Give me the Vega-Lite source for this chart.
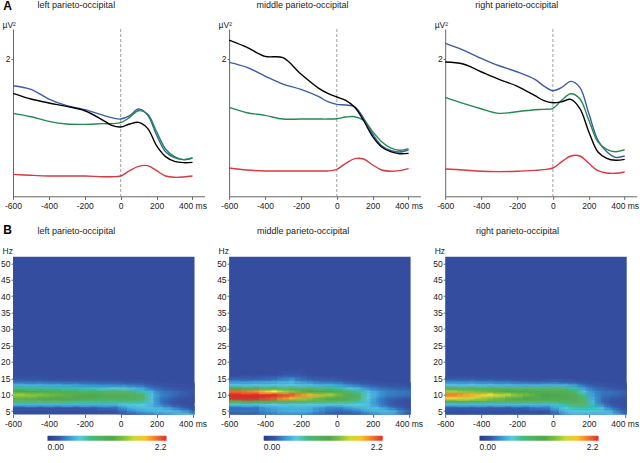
{"$schema":"https://vega.github.io/schema/vega-lite/v6.json","padding":0,"background":"white","config":{"font":"Liberation Sans","view":{"stroke":null},"axis":{"grid":false,"tickCount":12,"labelFont":"Liberation Sans","labelFontSize":8.5,"labelColor":"#222","titleFont":"Liberation Sans","titleFontSize":8.5,"titleColor":"#222","titleFontWeight":"normal","domainColor":"#666","tickColor":"#666","tickSize":3,"labelFlush":false,"labelBound":false},"axisY":{"tickSize":2,"labelPadding":1},"legend":{"labelFont":"Liberation Sans","labelFontSize":8.5,"labelColor":"#222"}},
"datasets":{
"lL":[{"s":"blue","t":-600,"v":1.606},{"s":"blue","t":-500,"v":1.553},{"s":"blue","t":-400,"v":1.413},{"s":"blue","t":-300,"v":1.316},{"s":"blue","t":-200,"v":1.258},{"s":"blue","t":-100,"v":1.18},{"s":"blue","t":-50,"v":1.142},{"s":"blue","t":0,"v":1.122},{"s":"blue","t":50,"v":1.171},{"s":"blue","t":100,"v":1.268},{"s":"blue","t":150,"v":1.18},{"s":"blue","t":200,"v":0.89},{"s":"blue","t":250,"v":0.648},{"s":"blue","t":300,"v":0.561},{"s":"blue","t":350,"v":0.532},{"s":"blue","t":400,"v":0.556},
{"s":"green","t":-600,"v":1.205},{"s":"green","t":-500,"v":1.156},{"s":"green","t":-400,"v":1.089},{"s":"green","t":-300,"v":1.05},{"s":"green","t":-200,"v":1.045},{"s":"green","t":-100,"v":1.055},{"s":"green","t":-50,"v":1.055},{"s":"green","t":0,"v":1.069},{"s":"green","t":50,"v":1.147},{"s":"green","t":100,"v":1.243},{"s":"green","t":150,"v":1.195},{"s":"green","t":200,"v":0.939},{"s":"green","t":250,"v":0.687},{"s":"green","t":300,"v":0.576},{"s":"green","t":350,"v":0.532},{"s":"green","t":400,"v":0.556},
{"s":"black","t":-600,"v":1.495},{"s":"black","t":-500,"v":1.413},{"s":"black","t":-400,"v":1.355},{"s":"black","t":-300,"v":1.306},{"s":"black","t":-200,"v":1.243},{"s":"black","t":-100,"v":1.108},{"s":"black","t":-50,"v":1.031},{"s":"black","t":0,"v":1.006},{"s":"black","t":50,"v":1.05},{"s":"black","t":100,"v":1.074},{"s":"black","t":150,"v":0.987},{"s":"black","t":200,"v":0.735},{"s":"black","t":250,"v":0.576},{"s":"black","t":300,"v":0.508},{"s":"black","t":350,"v":0.489},{"s":"black","t":400,"v":0.493},
{"s":"red","t":-600,"v":0.319},{"s":"red","t":-500,"v":0.305},{"s":"red","t":-400,"v":0.295},{"s":"red","t":-300,"v":0.295},{"s":"red","t":-200,"v":0.295},{"s":"red","t":-100,"v":0.285},{"s":"red","t":-50,"v":0.285},{"s":"red","t":0,"v":0.295},{"s":"red","t":50,"v":0.373},{"s":"red","t":100,"v":0.435},{"s":"red","t":150,"v":0.445},{"s":"red","t":200,"v":0.373},{"s":"red","t":250,"v":0.295},{"s":"red","t":300,"v":0.276},{"s":"red","t":350,"v":0.281},{"s":"red","t":400,"v":0.295}],
"lM":[{"s":"blue","t":-600,"v":1.945},{"s":"blue","t":-500,"v":1.872},{"s":"blue","t":-400,"v":1.747},{"s":"blue","t":-300,"v":1.63},{"s":"blue","t":-200,"v":1.553},{"s":"blue","t":-100,"v":1.447},{"s":"blue","t":-50,"v":1.374},{"s":"blue","t":0,"v":1.335},{"s":"blue","t":50,"v":1.326},{"s":"blue","t":100,"v":1.301},{"s":"blue","t":150,"v":1.132},{"s":"blue","t":200,"v":0.905},{"s":"blue","t":250,"v":0.735},{"s":"blue","t":300,"v":0.668},{"s":"blue","t":350,"v":0.643},{"s":"blue","t":400,"v":0.672},
{"s":"green","t":-600,"v":1.292},{"s":"green","t":-500,"v":1.214},{"s":"green","t":-400,"v":1.176},{"s":"green","t":-300,"v":1.122},{"s":"green","t":-200,"v":1.122},{"s":"green","t":-100,"v":1.122},{"s":"green","t":-50,"v":1.122},{"s":"green","t":0,"v":1.127},{"s":"green","t":50,"v":1.151},{"s":"green","t":100,"v":1.156},{"s":"green","t":150,"v":1.103},{"s":"green","t":200,"v":0.939},{"s":"green","t":250,"v":0.793},{"s":"green","t":300,"v":0.702},{"s":"green","t":350,"v":0.668},{"s":"green","t":400,"v":0.692},
{"s":"black","t":-600,"v":2.269},{"s":"black","t":-500,"v":2.163},{"s":"black","t":-400,"v":2.032},{"s":"black","t":-300,"v":2.013},{"s":"black","t":-200,"v":1.776},{"s":"black","t":-100,"v":1.568},{"s":"black","t":-50,"v":1.495},{"s":"black","t":0,"v":1.442},{"s":"black","t":50,"v":1.393},{"s":"black","t":100,"v":1.292},{"s":"black","t":150,"v":1.098},{"s":"black","t":200,"v":0.866},{"s":"black","t":250,"v":0.716},{"s":"black","t":300,"v":0.648},{"s":"black","t":350,"v":0.619},{"s":"black","t":400,"v":0.624},
{"s":"red","t":-600,"v":0.411},{"s":"red","t":-500,"v":0.382},{"s":"red","t":-400,"v":0.368},{"s":"red","t":-300,"v":0.368},{"s":"red","t":-200,"v":0.368},{"s":"red","t":-100,"v":0.368},{"s":"red","t":-50,"v":0.368},{"s":"red","t":0,"v":0.392},{"s":"red","t":50,"v":0.479},{"s":"red","t":100,"v":0.547},{"s":"red","t":150,"v":0.542},{"s":"red","t":200,"v":0.455},{"s":"red","t":250,"v":0.382},{"s":"red","t":300,"v":0.363},{"s":"red","t":350,"v":0.373},{"s":"red","t":400,"v":0.402}],
"lR":[{"s":"blue","t":-600,"v":2.221},{"s":"blue","t":-500,"v":2.124},{"s":"blue","t":-400,"v":2.003},{"s":"blue","t":-300,"v":1.896},{"s":"blue","t":-200,"v":1.809},{"s":"blue","t":-100,"v":1.698},{"s":"blue","t":-50,"v":1.601},{"s":"blue","t":0,"v":1.534},{"s":"blue","t":50,"v":1.582},{"s":"blue","t":100,"v":1.669},{"s":"blue","t":150,"v":1.582},{"s":"blue","t":200,"v":1.205},{"s":"blue","t":250,"v":0.818},{"s":"blue","t":300,"v":0.648},{"s":"blue","t":350,"v":0.566},{"s":"blue","t":400,"v":0.585},
{"s":"green","t":-600,"v":1.437},{"s":"green","t":-500,"v":1.35},{"s":"green","t":-400,"v":1.272},{"s":"green","t":-300,"v":1.205},{"s":"green","t":-200,"v":1.229},{"s":"green","t":-100,"v":1.258},{"s":"green","t":-50,"v":1.263},{"s":"green","t":0,"v":1.277},{"s":"green","t":50,"v":1.398},{"s":"green","t":100,"v":1.49},{"s":"green","t":150,"v":1.418},{"s":"green","t":200,"v":1.108},{"s":"green","t":250,"v":0.793},{"s":"green","t":300,"v":0.682},{"s":"green","t":350,"v":0.648},{"s":"green","t":400,"v":0.677},
{"s":"black","t":-600,"v":1.95},{"s":"black","t":-500,"v":1.921},{"s":"black","t":-400,"v":1.809},{"s":"black","t":-300,"v":1.698},{"s":"black","t":-200,"v":1.601},{"s":"black","t":-100,"v":1.461},{"s":"black","t":-50,"v":1.389},{"s":"black","t":0,"v":1.359},{"s":"black","t":50,"v":1.374},{"s":"black","t":100,"v":1.408},{"s":"black","t":150,"v":1.277},{"s":"black","t":200,"v":0.939},{"s":"black","t":250,"v":0.648},{"s":"black","t":300,"v":0.552},{"s":"black","t":350,"v":0.523},{"s":"black","t":400,"v":0.537},
{"s":"red","t":-600,"v":0.397},{"s":"red","t":-500,"v":0.382},{"s":"red","t":-400,"v":0.363},{"s":"red","t":-300,"v":0.358},{"s":"red","t":-200,"v":0.363},{"s":"red","t":-100,"v":0.377},{"s":"red","t":-50,"v":0.387},{"s":"red","t":0,"v":0.411},{"s":"red","t":50,"v":0.503},{"s":"red","t":100,"v":0.585},{"s":"red","t":150,"v":0.585},{"s":"red","t":200,"v":0.479},{"s":"red","t":250,"v":0.373},{"s":"red","t":300,"v":0.339},{"s":"red","t":350,"v":0.334},{"s":"red","t":400,"v":0.353}],
"hL":[
{"t":25,"f":4,"v":0.17},{"t":75,"f":4,"v":0.2},{"t":125,"f":4,"v":0.25},{"t":175,"f":4,"v":0.3},{"t":225,"f":4,"v":0.35},{"t":275,"f":4,"v":0.4},{"t":325,"f":4,"v":0.5},{"t":375,"f":4,"v":0.55},{"t":425,"f":4,"v":0.4},
{"t":-550,"f":5,"v":0.17},{"t":-450,"f":5,"v":0.17},{"t":-350,"f":5,"v":0.17},{"t":-250,"f":5,"v":0.17},{"t":-150,"f":5,"v":0.17},{"t":-50,"f":5,"v":0.2},{"t":25,"f":5,"v":0.3},{"t":75,"f":5,"v":0.38},{"t":125,"f":5,"v":0.45},{"t":175,"f":5,"v":0.5},{"t":225,"f":5,"v":0.55},{"t":275,"f":5,"v":0.55},{"t":325,"f":5,"v":0.5},{"t":375,"f":5,"v":0.4},{"t":425,"f":5,"v":0.22},
{"t":-550,"f":6,"v":0.2},{"t":-450,"f":6,"v":0.2},{"t":-350,"f":6,"v":0.2},{"t":-250,"f":6,"v":0.2},{"t":-150,"f":6,"v":0.22},{"t":-50,"f":6,"v":0.28},{"t":25,"f":6,"v":0.42},{"t":75,"f":6,"v":0.52},{"t":125,"f":6,"v":0.55},{"t":175,"f":6,"v":0.55},{"t":225,"f":6,"v":0.52},{"t":275,"f":6,"v":0.42},{"t":325,"f":6,"v":0.3},{"t":375,"f":6,"v":0.22},{"t":425,"f":6,"v":0.17},
{"t":-550,"f":7,"v":0.5},{"t":-450,"f":7,"v":0.5},{"t":-350,"f":7,"v":0.5},{"t":-250,"f":7,"v":0.5},{"t":-150,"f":7,"v":0.5},{"t":-50,"f":7,"v":0.5},{"t":25,"f":7,"v":0.6},{"t":75,"f":7,"v":0.62},{"t":125,"f":7,"v":0.6},{"t":175,"f":7,"v":0.5},{"t":225,"f":7,"v":0.35},{"t":275,"f":7,"v":0.25},{"t":325,"f":7,"v":0.2},{"t":375,"f":7,"v":0.17},
{"t":-550,"f":8,"v":0.85},{"t":-450,"f":8,"v":0.85},{"t":-350,"f":8,"v":0.85},{"t":-250,"f":8,"v":0.82},{"t":-150,"f":8,"v":0.8},{"t":-50,"f":8,"v":0.8},{"t":25,"f":8,"v":0.8},{"t":75,"f":8,"v":0.8},{"t":125,"f":8,"v":0.75},{"t":175,"f":8,"v":0.55},{"t":225,"f":8,"v":0.3},{"t":275,"f":8,"v":0.22},{"t":325,"f":8,"v":0.18},{"t":375,"f":8,"v":0.17},{"t":425,"f":8,"v":0.16},
{"t":-550,"f":9,"v":1.3},{"t":-450,"f":9,"v":1.25},{"t":-350,"f":9,"v":1.18},{"t":-250,"f":9,"v":1.12},{"t":-150,"f":9,"v":1.08},{"t":-50,"f":9,"v":1.02},{"t":25,"f":9,"v":0.98},{"t":75,"f":9,"v":0.95},{"t":125,"f":9,"v":0.88},{"t":175,"f":9,"v":0.55},{"t":225,"f":9,"v":0.32},{"t":275,"f":9,"v":0.26},{"t":325,"f":9,"v":0.2},{"t":375,"f":9,"v":0.18},{"t":425,"f":9,"v":0.17},
{"t":-550,"f":10,"v":1.5},{"t":-450,"f":10,"v":1.42},{"t":-350,"f":10,"v":1.32},{"t":-250,"f":10,"v":1.25},{"t":-150,"f":10,"v":1.15},{"t":-50,"f":10,"v":1.05},{"t":25,"f":10,"v":1.0},{"t":75,"f":10,"v":0.95},{"t":125,"f":10,"v":0.88},{"t":175,"f":10,"v":0.55},{"t":225,"f":10,"v":0.36},{"t":275,"f":10,"v":0.3},{"t":325,"f":10,"v":0.25},{"t":375,"f":10,"v":0.22},{"t":425,"f":10,"v":0.2},
{"t":-550,"f":11,"v":1.2},{"t":-450,"f":11,"v":1.12},{"t":-350,"f":11,"v":1.05},{"t":-250,"f":11,"v":1.0},{"t":-150,"f":11,"v":0.95},{"t":-50,"f":11,"v":0.92},{"t":25,"f":11,"v":0.88},{"t":75,"f":11,"v":0.82},{"t":125,"f":11,"v":0.7},{"t":175,"f":11,"v":0.48},{"t":225,"f":11,"v":0.32},{"t":275,"f":11,"v":0.28},{"t":325,"f":11,"v":0.25},{"t":375,"f":11,"v":0.22},{"t":425,"f":11,"v":0.2},
{"t":-550,"f":12,"v":0.8},{"t":-450,"f":12,"v":0.78},{"t":-350,"f":12,"v":0.75},{"t":-250,"f":12,"v":0.72},{"t":-150,"f":12,"v":0.68},{"t":-50,"f":12,"v":0.62},{"t":25,"f":12,"v":0.58},{"t":75,"f":12,"v":0.52},{"t":125,"f":12,"v":0.45},{"t":175,"f":12,"v":0.3},{"t":225,"f":12,"v":0.25},{"t":275,"f":12,"v":0.22},{"t":325,"f":12,"v":0.2},{"t":375,"f":12,"v":0.2},{"t":425,"f":12,"v":0.18},
{"t":-550,"f":13,"v":0.5},{"t":-450,"f":13,"v":0.48},{"t":-350,"f":13,"v":0.45},{"t":-250,"f":13,"v":0.42},{"t":-150,"f":13,"v":0.38},{"t":-50,"f":13,"v":0.35},{"t":25,"f":13,"v":0.32},{"t":75,"f":13,"v":0.3},{"t":125,"f":13,"v":0.27},{"t":175,"f":13,"v":0.22},{"t":225,"f":13,"v":0.2},{"t":275,"f":13,"v":0.18},{"t":325,"f":13,"v":0.17},{"t":375,"f":13,"v":0.17},{"t":425,"f":13,"v":0.16},
{"t":-550,"f":14,"v":0.28},{"t":-450,"f":14,"v":0.27},{"t":-350,"f":14,"v":0.25},{"t":-250,"f":14,"v":0.24},{"t":-150,"f":14,"v":0.23},{"t":-50,"f":14,"v":0.22},{"t":25,"f":14,"v":0.2},{"t":75,"f":14,"v":0.2},{"t":125,"f":14,"v":0.18},{"t":175,"f":14,"v":0.17},
{"t":-550,"f":15,"v":0.18},{"t":-450,"f":15,"v":0.18},{"t":-350,"f":15,"v":0.17},{"t":-250,"f":15,"v":0.17},{"t":-150,"f":15,"v":0.17},{"t":-50,"f":15,"v":0.16}],
"hM":[
{"t":-550,"f":4,"v":0.2},{"t":-450,"f":4,"v":0.2},{"t":-350,"f":4,"v":0.3},{"t":-250,"f":4,"v":0.35},{"t":-150,"f":4,"v":0.3},{"t":-50,"f":4,"v":0.2},{"t":25,"f":4,"v":0.17},{"t":75,"f":4,"v":0.17},{"t":125,"f":4,"v":0.2},{"t":175,"f":4,"v":0.28},{"t":225,"f":4,"v":0.35},{"t":275,"f":4,"v":0.42},{"t":325,"f":4,"v":0.4},{"t":375,"f":4,"v":0.25},{"t":425,"f":4,"v":0.2},
{"t":-550,"f":5,"v":0.3},{"t":-450,"f":5,"v":0.3},{"t":-350,"f":5,"v":0.42},{"t":-250,"f":5,"v":0.5},{"t":-150,"f":5,"v":0.48},{"t":-50,"f":5,"v":0.3},{"t":25,"f":5,"v":0.25},{"t":75,"f":5,"v":0.3},{"t":125,"f":5,"v":0.35},{"t":175,"f":5,"v":0.45},{"t":225,"f":5,"v":0.52},{"t":275,"f":5,"v":0.55},{"t":325,"f":5,"v":0.48},{"t":375,"f":5,"v":0.32},{"t":425,"f":5,"v":0.22},
{"t":-550,"f":6,"v":0.28},{"t":-450,"f":6,"v":0.3},{"t":-350,"f":6,"v":0.45},{"t":-250,"f":6,"v":0.5},{"t":-150,"f":6,"v":0.48},{"t":-50,"f":6,"v":0.35},{"t":25,"f":6,"v":0.35},{"t":75,"f":6,"v":0.42},{"t":125,"f":6,"v":0.5},{"t":175,"f":6,"v":0.55},{"t":225,"f":6,"v":0.55},{"t":275,"f":6,"v":0.42},{"t":325,"f":6,"v":0.3},{"t":375,"f":6,"v":0.22},{"t":425,"f":6,"v":0.18},
{"t":-550,"f":7,"v":0.55},{"t":-450,"f":7,"v":0.55},{"t":-350,"f":7,"v":0.6},{"t":-250,"f":7,"v":0.62},{"t":-150,"f":7,"v":0.6},{"t":-50,"f":7,"v":0.58},{"t":25,"f":7,"v":0.58},{"t":75,"f":7,"v":0.6},{"t":125,"f":7,"v":0.6},{"t":175,"f":7,"v":0.55},{"t":225,"f":7,"v":0.4},{"t":275,"f":7,"v":0.27},{"t":325,"f":7,"v":0.2},{"t":375,"f":7,"v":0.18},{"t":425,"f":7,"v":0.17},
{"t":-550,"f":8,"v":1.25},{"t":-450,"f":8,"v":1.2},{"t":-350,"f":8,"v":1.1},{"t":-250,"f":8,"v":1.0},{"t":-150,"f":8,"v":0.9},{"t":-50,"f":8,"v":0.88},{"t":25,"f":8,"v":0.85},{"t":75,"f":8,"v":0.82},{"t":125,"f":8,"v":0.72},{"t":175,"f":8,"v":0.55},{"t":225,"f":8,"v":0.38},{"t":275,"f":8,"v":0.26},{"t":325,"f":8,"v":0.2},{"t":375,"f":8,"v":0.18},{"t":425,"f":8,"v":0.17},
{"t":-550,"f":9,"v":2.2},{"t":-450,"f":9,"v":2.2},{"t":-350,"f":9,"v":2.1},{"t":-250,"f":9,"v":1.85},{"t":-150,"f":9,"v":1.45},{"t":-50,"f":9,"v":1.25},{"t":25,"f":9,"v":1.15},{"t":75,"f":9,"v":1.0},{"t":125,"f":9,"v":0.88},{"t":175,"f":9,"v":0.6},{"t":225,"f":9,"v":0.4},{"t":275,"f":9,"v":0.28},{"t":325,"f":9,"v":0.25},{"t":375,"f":9,"v":0.22},{"t":425,"f":9,"v":0.2},
{"t":-550,"f":10,"v":2.2},{"t":-450,"f":10,"v":2.2},{"t":-350,"f":10,"v":2.2},{"t":-250,"f":10,"v":2.1},{"t":-150,"f":10,"v":1.85},{"t":-50,"f":10,"v":1.5},{"t":25,"f":10,"v":1.3},{"t":75,"f":10,"v":1.08},{"t":125,"f":10,"v":0.9},{"t":175,"f":10,"v":0.62},{"t":225,"f":10,"v":0.45},{"t":275,"f":10,"v":0.35},{"t":325,"f":10,"v":0.32},{"t":375,"f":10,"v":0.3},{"t":425,"f":10,"v":0.28},
{"t":-550,"f":11,"v":2.05},{"t":-450,"f":11,"v":1.95},{"t":-350,"f":11,"v":1.7},{"t":-250,"f":11,"v":1.4},{"t":-150,"f":11,"v":1.2},{"t":-50,"f":11,"v":1.1},{"t":25,"f":11,"v":1.0},{"t":75,"f":11,"v":0.9},{"t":125,"f":11,"v":0.75},{"t":175,"f":11,"v":0.55},{"t":225,"f":11,"v":0.42},{"t":275,"f":11,"v":0.35},{"t":325,"f":11,"v":0.32},{"t":375,"f":11,"v":0.3},{"t":425,"f":11,"v":0.28},
{"t":-550,"f":12,"v":1.1},{"t":-450,"f":12,"v":1.05},{"t":-350,"f":12,"v":1.0},{"t":-250,"f":12,"v":0.9},{"t":-150,"f":12,"v":0.85},{"t":-50,"f":12,"v":0.8},{"t":25,"f":12,"v":0.72},{"t":75,"f":12,"v":0.62},{"t":125,"f":12,"v":0.5},{"t":175,"f":12,"v":0.38},{"t":225,"f":12,"v":0.32},{"t":275,"f":12,"v":0.28},{"t":325,"f":12,"v":0.25},{"t":375,"f":12,"v":0.25},{"t":425,"f":12,"v":0.22},
{"t":-550,"f":13,"v":0.58},{"t":-450,"f":13,"v":0.58},{"t":-350,"f":13,"v":0.58},{"t":-250,"f":13,"v":0.6},{"t":-150,"f":13,"v":0.55},{"t":-50,"f":13,"v":0.48},{"t":25,"f":13,"v":0.42},{"t":75,"f":13,"v":0.35},{"t":125,"f":13,"v":0.3},{"t":175,"f":13,"v":0.25},{"t":225,"f":13,"v":0.22},{"t":275,"f":13,"v":0.2},{"t":325,"f":13,"v":0.2},{"t":375,"f":13,"v":0.18},{"t":425,"f":13,"v":0.17},
{"t":-550,"f":14,"v":0.38},{"t":-450,"f":14,"v":0.4},{"t":-350,"f":14,"v":0.42},{"t":-250,"f":14,"v":0.48},{"t":-150,"f":14,"v":0.35},{"t":-50,"f":14,"v":0.28},{"t":25,"f":14,"v":0.25},{"t":75,"f":14,"v":0.22},{"t":125,"f":14,"v":0.2},{"t":175,"f":14,"v":0.18},{"t":225,"f":14,"v":0.17},
{"t":-550,"f":15,"v":0.22},{"t":-450,"f":15,"v":0.22},{"t":-350,"f":15,"v":0.25},{"t":-250,"f":15,"v":0.35},{"t":-150,"f":15,"v":0.22},{"t":-50,"f":15,"v":0.2},{"t":25,"f":15,"v":0.18},{"t":75,"f":15,"v":0.17},
{"t":-250,"f":16,"v":0.22},{"t":-250,"f":17,"v":0.18}],
"hR":[
{"t":-550,"f":4,"v":0.16},{"t":-450,"f":4,"v":0.16},{"t":-350,"f":4,"v":0.16},{"t":-250,"f":4,"v":0.16},{"t":-150,"f":4,"v":0.16},{"t":-50,"f":4,"v":0.16},{"t":25,"f":4,"v":0.25},{"t":75,"f":4,"v":0.42},{"t":125,"f":4,"v":0.5},{"t":175,"f":4,"v":0.45},{"t":225,"f":4,"v":0.45},{"t":275,"f":4,"v":0.45},{"t":325,"f":4,"v":0.55},{"t":375,"f":4,"v":0.4},{"t":425,"f":4,"v":0.2},
{"t":-550,"f":5,"v":0.18},{"t":-450,"f":5,"v":0.18},{"t":-350,"f":5,"v":0.18},{"t":-250,"f":5,"v":0.18},{"t":-150,"f":5,"v":0.18},{"t":-50,"f":5,"v":0.2},{"t":25,"f":5,"v":0.38},{"t":75,"f":5,"v":0.55},{"t":125,"f":5,"v":0.6},{"t":175,"f":5,"v":0.58},{"t":225,"f":5,"v":0.58},{"t":275,"f":5,"v":0.62},{"t":325,"f":5,"v":0.5},{"t":375,"f":5,"v":0.3},{"t":425,"f":5,"v":0.2},
{"t":-550,"f":6,"v":0.22},{"t":-450,"f":6,"v":0.22},{"t":-350,"f":6,"v":0.22},{"t":-250,"f":6,"v":0.22},{"t":-150,"f":6,"v":0.25},{"t":-50,"f":6,"v":0.32},{"t":25,"f":6,"v":0.5},{"t":75,"f":6,"v":0.6},{"t":125,"f":6,"v":0.7},{"t":175,"f":6,"v":0.7},{"t":225,"f":6,"v":0.72},{"t":275,"f":6,"v":0.55},{"t":325,"f":6,"v":0.32},{"t":375,"f":6,"v":0.22},{"t":425,"f":6,"v":0.18},
{"t":-550,"f":7,"v":0.52},{"t":-450,"f":7,"v":0.52},{"t":-350,"f":7,"v":0.52},{"t":-250,"f":7,"v":0.52},{"t":-150,"f":7,"v":0.52},{"t":-50,"f":7,"v":0.52},{"t":25,"f":7,"v":0.65},{"t":75,"f":7,"v":0.75},{"t":125,"f":7,"v":0.85},{"t":175,"f":7,"v":0.85},{"t":225,"f":7,"v":0.7},{"t":275,"f":7,"v":0.35},{"t":325,"f":7,"v":0.22},{"t":375,"f":7,"v":0.18},{"t":425,"f":7,"v":0.17},
{"t":-550,"f":8,"v":1.0},{"t":-450,"f":8,"v":0.98},{"t":-350,"f":8,"v":0.95},{"t":-250,"f":8,"v":0.95},{"t":-150,"f":8,"v":0.92},{"t":-50,"f":8,"v":0.9},{"t":25,"f":8,"v":0.95},{"t":75,"f":8,"v":0.98},{"t":125,"f":8,"v":1.0},{"t":175,"f":8,"v":0.9},{"t":225,"f":8,"v":0.5},{"t":275,"f":8,"v":0.26},{"t":325,"f":8,"v":0.2},{"t":375,"f":8,"v":0.18},{"t":425,"f":8,"v":0.17},
{"t":-550,"f":9,"v":1.75},{"t":-450,"f":9,"v":1.6},{"t":-350,"f":9,"v":1.45},{"t":-250,"f":9,"v":1.28},{"t":-150,"f":9,"v":1.18},{"t":-50,"f":9,"v":1.12},{"t":25,"f":9,"v":1.12},{"t":75,"f":9,"v":1.1},{"t":125,"f":9,"v":1.05},{"t":175,"f":9,"v":0.88},{"t":225,"f":9,"v":0.45},{"t":275,"f":9,"v":0.28},{"t":325,"f":9,"v":0.22},{"t":375,"f":9,"v":0.2},{"t":425,"f":9,"v":0.18},
{"t":-550,"f":10,"v":2.0},{"t":-450,"f":10,"v":1.85},{"t":-350,"f":10,"v":1.72},{"t":-250,"f":10,"v":1.55},{"t":-150,"f":10,"v":1.35},{"t":-50,"f":10,"v":1.2},{"t":25,"f":10,"v":1.15},{"t":75,"f":10,"v":1.1},{"t":125,"f":10,"v":1.05},{"t":175,"f":10,"v":0.75},{"t":225,"f":10,"v":0.42},{"t":275,"f":10,"v":0.3},{"t":325,"f":10,"v":0.28},{"t":375,"f":10,"v":0.25},{"t":425,"f":10,"v":0.22},
{"t":-550,"f":11,"v":1.5},{"t":-450,"f":11,"v":1.4},{"t":-350,"f":11,"v":1.3},{"t":-250,"f":11,"v":1.2},{"t":-150,"f":11,"v":1.12},{"t":-50,"f":11,"v":1.08},{"t":25,"f":11,"v":1.05},{"t":75,"f":11,"v":1.0},{"t":125,"f":11,"v":0.95},{"t":175,"f":11,"v":0.55},{"t":225,"f":11,"v":0.38},{"t":275,"f":11,"v":0.3},{"t":325,"f":11,"v":0.28},{"t":375,"f":11,"v":0.25},{"t":425,"f":11,"v":0.22},
{"t":-550,"f":12,"v":0.95},{"t":-450,"f":12,"v":0.95},{"t":-350,"f":12,"v":0.92},{"t":-250,"f":12,"v":0.9},{"t":-150,"f":12,"v":0.85},{"t":-50,"f":12,"v":0.85},{"t":25,"f":12,"v":0.85},{"t":75,"f":12,"v":0.82},{"t":125,"f":12,"v":0.72},{"t":175,"f":12,"v":0.42},{"t":225,"f":12,"v":0.3},{"t":275,"f":12,"v":0.25},{"t":325,"f":12,"v":0.22},{"t":375,"f":12,"v":0.2},{"t":425,"f":12,"v":0.18},
{"t":-550,"f":13,"v":0.58},{"t":-450,"f":13,"v":0.58},{"t":-350,"f":13,"v":0.55},{"t":-250,"f":13,"v":0.52},{"t":-150,"f":13,"v":0.48},{"t":-50,"f":13,"v":0.48},{"t":25,"f":13,"v":0.5},{"t":75,"f":13,"v":0.48},{"t":125,"f":13,"v":0.42},{"t":175,"f":13,"v":0.28},{"t":225,"f":13,"v":0.22},{"t":275,"f":13,"v":0.2},{"t":325,"f":13,"v":0.18},{"t":375,"f":13,"v":0.17},{"t":425,"f":13,"v":0.16},
{"t":-550,"f":14,"v":0.35},{"t":-450,"f":14,"v":0.35},{"t":-350,"f":14,"v":0.32},{"t":-250,"f":14,"v":0.3},{"t":-150,"f":14,"v":0.25},{"t":-50,"f":14,"v":0.24},{"t":25,"f":14,"v":0.24},{"t":75,"f":14,"v":0.22},{"t":125,"f":14,"v":0.2},{"t":175,"f":14,"v":0.18},{"t":225,"f":14,"v":0.17},
{"t":-550,"f":15,"v":0.2},{"t":-450,"f":15,"v":0.2},{"t":-350,"f":15,"v":0.18},{"t":-250,"f":15,"v":0.18},{"t":-150,"f":15,"v":0.17},{"t":-50,"f":15,"v":0.17}],
"bg":[{"a":-600,"b":411,"c":4,"d":52,"v":0.15}],
"zero":[{"t":0}],
"mA":[{"t":-630,"v":2.76,"label":"A"}],
"mB":[{"t":-630,"f":60.2,"label":"B"}],
"tL":[{"t":-463,"v":2.777,"label":"left parieto-occipital"}],
"tM":[{"t":-447,"v":2.777,"label":"middle parieto-occipital"}],
"tR":[{"t":-433,"v":2.777,"label":"right parieto-occipital"}],
"uL":[{"t":-463,"f":59.9,"label":"left parieto-occipital"}],
"uM":[{"t":-444,"f":59.9,"label":"middle parieto-occipital"}],
"uR":[{"t":-429,"f":59.9,"label":"right parieto-occipital"}]
},
"columns":3,"bounds":"flush","spacing":{"row":59.7,"column":24.1},"resolve":{"scale":{"color":"independent"}},
"concat":[
{"width":191.5,"height":167.3,"layer":[
{"data":{"name":"zero"},"mark":{"type":"rule","color":"#777","strokeWidth":0.7,"strokeDash":[3,2]},"encoding":{"x":{"field":"t","type":"quantitative","scale":{"domain":[-600,467],"nice":false},"axis":{"values":[-600,-400,-200,0,200,400],"title":null,"labelOverlap":false,"labelExpr":"datum.value==400?'400 ms':''+datum.value"}}}},
{"data":{"name":"lL"},"mark":{"type":"line","interpolate":"catmull-rom","strokeWidth":1.4},"encoding":{"x":{"field":"t","type":"quantitative"},"y":{"field":"v","type":"quantitative","scale":{"domain":[0,2.43],"nice":false},"axis":{"values":[2],"format":"d","title":"µV²","titleAngle":0,"titleAlign":"left","titleX":-11,"titleY":0}},"color":{"field":"s","type":"nominal","legend":null,"scale":{"domain":["blue","green","black","red"],"range":["#3c5aa6","#22894f","#000000","#d8383f"]}}}},
{"data":{"name":"tL"},"mark":{"type":"text","align":"left","fontSize":9,"color":"#222","font":"Liberation Sans"},"encoding":{"x":{"field":"t","type":"quantitative"},"y":{"field":"v","type":"quantitative"},"text":{"field":"label"}}},
{"data":{"name":"mA"},"mark":{"type":"text","fontSize":12,"fontWeight":"bold","color":"#000","font":"Liberation Sans"},"encoding":{"x":{"field":"t","type":"quantitative"},"y":{"field":"v","type":"quantitative"},"text":{"field":"label"}}}]},
{"width":191.5,"height":167.3,"layer":[
{"data":{"name":"zero"},"mark":{"type":"rule","color":"#777","strokeWidth":0.7,"strokeDash":[3,2]},"encoding":{"x":{"field":"t","type":"quantitative","scale":{"domain":[-600,467],"nice":false},"axis":{"values":[-600,-400,-200,0,200,400],"title":null,"labelOverlap":false,"labelExpr":"datum.value==400?'400 ms':''+datum.value"}}}},
{"data":{"name":"lM"},"mark":{"type":"line","interpolate":"catmull-rom","strokeWidth":1.4},"encoding":{"x":{"field":"t","type":"quantitative"},"y":{"field":"v","type":"quantitative","scale":{"domain":[0,2.43],"nice":false},"axis":{"values":[2],"format":"d","title":"µV²","titleAngle":0,"titleAlign":"left","titleX":-11,"titleY":0}},"color":{"field":"s","type":"nominal","legend":null,"scale":{"domain":["blue","green","black","red"],"range":["#3c5aa6","#22894f","#000000","#d8383f"]}}}},
{"data":{"name":"tM"},"mark":{"type":"text","align":"left","fontSize":9,"color":"#222","font":"Liberation Sans"},"encoding":{"x":{"field":"t","type":"quantitative"},"y":{"field":"v","type":"quantitative"},"text":{"field":"label"}}}]},
{"width":191.5,"height":167.3,"layer":[
{"data":{"name":"zero"},"mark":{"type":"rule","color":"#777","strokeWidth":0.7,"strokeDash":[3,2]},"encoding":{"x":{"field":"t","type":"quantitative","scale":{"domain":[-600,467],"nice":false},"axis":{"values":[-600,-400,-200,0,200,400],"title":null,"labelOverlap":false,"labelExpr":"datum.value==400?'400 ms':''+datum.value"}}}},
{"data":{"name":"lR"},"mark":{"type":"line","interpolate":"catmull-rom","strokeWidth":1.4},"encoding":{"x":{"field":"t","type":"quantitative"},"y":{"field":"v","type":"quantitative","scale":{"domain":[0,2.43],"nice":false},"axis":{"values":[2],"format":"d","title":"µV²","titleAngle":0,"titleAlign":"left","titleX":-11,"titleY":0}},"color":{"field":"s","type":"nominal","legend":null,"scale":{"domain":["blue","green","black","red"],"range":["#3c5aa6","#22894f","#000000","#d8383f"]}}}},
{"data":{"name":"tR"},"mark":{"type":"text","align":"left","fontSize":9,"color":"#222","font":"Liberation Sans"},"encoding":{"x":{"field":"t","type":"quantitative"},"y":{"field":"v","type":"quantitative"},"text":{"field":"label"}}}]},
{"width":181.5,"height":157.7,"layer":[
{"data":{"name":"bg"},"mark":{"type":"rect"},"encoding":{"x":{"field":"a","type":"quantitative","scale":{"domain":[-600,411],"nice":false},"axis":{"values":[-600,-400,-200,0,200,400],"title":null,"domain":false,"labelOverlap":false,"labelExpr":"datum.value==400?'400 ms':''+datum.value"}},"x2":{"field":"b"},"y":{"field":"c","type":"quantitative","scale":{"domain":[4,52],"nice":false},"axis":{"values":[5,10,15,20,25,30,35,40,45,50],"title":"Hz","domain":false,"labelOverlap":false,"titleAngle":0,"titleAlign":"left","titleX":-11,"titleY":-1}},"y2":{"field":"d"},"color":{"field":"v","type":"quantitative","scale":{"domain":[0,0.2,0.45,0.6,0.85,1.2,1.45,1.7,1.95,2.2],"range":["#2a3c8c","#3953a4","#45a8dc","#5cc8e0","#5ab56a","#4ea84a","#8cc63f","#f5e83a","#f58a30","#e02a2a"]},"legend":{"orient":"none","direction":"horizontal","title":null,"legendX":34.5,"legendY":179,"gradientLength":119,"gradientThickness":5,"gradientOpacity":1,"values":[0,2.2],"labelExpr":"datum.value==0?'0.00':'2.2'","labelAlign":"center","encode":{"gradient":{"update":{"opacity":{"value":1}}}}}}}},
{"data":{"name":"hL"},"transform":[{"filter":"datum.t<0"}],"mark":{"type":"rect","width":18.2,"height":3.4,"clip":true},"encoding":{"x":{"field":"t","type":"quantitative"},"y":{"field":"f","type":"quantitative"},"color":{"field":"v","type":"quantitative"}}},
{"data":{"name":"hL"},"transform":[{"filter":"datum.t>0"}],"mark":{"type":"rect","width":9.1,"height":3.4,"clip":true},"encoding":{"x":{"field":"t","type":"quantitative"},"y":{"field":"f","type":"quantitative"},"color":{"field":"v","type":"quantitative"}}},
{"data":{"name":"hL"},"transform":[{"filter":"datum.t<0"}],"mark":{"type":"rect","width":30,"height":5.5,"opacity":0.38,"clip":true},"encoding":{"x":{"field":"t","type":"quantitative"},"y":{"field":"f","type":"quantitative"},"color":{"field":"v","type":"quantitative"}}},
{"data":{"name":"hL"},"transform":[{"filter":"datum.t>0"}],"mark":{"type":"rect","width":15,"height":5.5,"opacity":0.38,"clip":true},"encoding":{"x":{"field":"t","type":"quantitative"},"y":{"field":"f","type":"quantitative"},"color":{"field":"v","type":"quantitative"}}},
{"data":{"name":"uL"},"mark":{"type":"text","align":"left","fontSize":9,"color":"#222","font":"Liberation Sans"},"encoding":{"x":{"field":"t","type":"quantitative"},"y":{"field":"f","type":"quantitative"},"text":{"field":"label"}}},
{"data":{"name":"mB"},"mark":{"type":"text","fontSize":12,"fontWeight":"bold","color":"#000","font":"Liberation Sans"},"encoding":{"x":{"field":"t","type":"quantitative"},"y":{"field":"f","type":"quantitative"},"text":{"field":"label"}}}]},
{"width":181.5,"height":157.7,"layer":[
{"data":{"name":"bg"},"mark":{"type":"rect"},"encoding":{"x":{"field":"a","type":"quantitative","scale":{"domain":[-600,411],"nice":false},"axis":{"values":[-600,-400,-200,0,200,400],"title":null,"domain":false,"labelOverlap":false,"labelExpr":"datum.value==400?'400 ms':''+datum.value"}},"x2":{"field":"b"},"y":{"field":"c","type":"quantitative","scale":{"domain":[4,52],"nice":false},"axis":{"values":[5,10,15,20,25,30,35,40,45,50],"title":"Hz","domain":false,"labelOverlap":false,"titleAngle":0,"titleAlign":"left","titleX":-11,"titleY":-1}},"y2":{"field":"d"},"color":{"field":"v","type":"quantitative","scale":{"domain":[0,0.2,0.45,0.6,0.85,1.2,1.45,1.7,1.95,2.2],"range":["#2a3c8c","#3953a4","#45a8dc","#5cc8e0","#5ab56a","#4ea84a","#8cc63f","#f5e83a","#f58a30","#e02a2a"]},"legend":{"orient":"none","direction":"horizontal","title":null,"legendX":34.6,"legendY":179,"gradientLength":119,"gradientThickness":5,"gradientOpacity":1,"values":[0,2.2],"labelExpr":"datum.value==0?'0.00':'2.2'","labelAlign":"center","encode":{"gradient":{"update":{"opacity":{"value":1}}}}}}}},
{"data":{"name":"hM"},"transform":[{"filter":"datum.t<0"}],"mark":{"type":"rect","width":18.2,"height":3.4,"clip":true},"encoding":{"x":{"field":"t","type":"quantitative"},"y":{"field":"f","type":"quantitative"},"color":{"field":"v","type":"quantitative"}}},
{"data":{"name":"hM"},"transform":[{"filter":"datum.t>0"}],"mark":{"type":"rect","width":9.1,"height":3.4,"clip":true},"encoding":{"x":{"field":"t","type":"quantitative"},"y":{"field":"f","type":"quantitative"},"color":{"field":"v","type":"quantitative"}}},
{"data":{"name":"hM"},"transform":[{"filter":"datum.t<0"}],"mark":{"type":"rect","width":30,"height":5.5,"opacity":0.38,"clip":true},"encoding":{"x":{"field":"t","type":"quantitative"},"y":{"field":"f","type":"quantitative"},"color":{"field":"v","type":"quantitative"}}},
{"data":{"name":"hM"},"transform":[{"filter":"datum.t>0"}],"mark":{"type":"rect","width":15,"height":5.5,"opacity":0.38,"clip":true},"encoding":{"x":{"field":"t","type":"quantitative"},"y":{"field":"f","type":"quantitative"},"color":{"field":"v","type":"quantitative"}}},
{"data":{"name":"uM"},"mark":{"type":"text","align":"left","fontSize":9,"color":"#222","font":"Liberation Sans"},"encoding":{"x":{"field":"t","type":"quantitative"},"y":{"field":"f","type":"quantitative"},"text":{"field":"label"}}}]},
{"width":181.5,"height":157.7,"layer":[
{"data":{"name":"bg"},"mark":{"type":"rect"},"encoding":{"x":{"field":"a","type":"quantitative","scale":{"domain":[-600,411],"nice":false},"axis":{"values":[-600,-400,-200,0,200,400],"title":null,"domain":false,"labelOverlap":false,"labelExpr":"datum.value==400?'400 ms':''+datum.value"}},"x2":{"field":"b"},"y":{"field":"c","type":"quantitative","scale":{"domain":[4,52],"nice":false},"axis":{"values":[5,10,15,20,25,30,35,40,45,50],"title":"Hz","domain":false,"labelOverlap":false,"titleAngle":0,"titleAlign":"left","titleX":-11,"titleY":-1}},"y2":{"field":"d"},"color":{"field":"v","type":"quantitative","scale":{"domain":[0,0.2,0.45,0.6,0.85,1.2,1.45,1.7,1.95,2.2],"range":["#2a3c8c","#3953a4","#45a8dc","#5cc8e0","#5ab56a","#4ea84a","#8cc63f","#f5e83a","#f58a30","#e02a2a"]},"legend":{"orient":"none","direction":"horizontal","title":null,"legendX":34.3,"legendY":179,"gradientLength":119,"gradientThickness":5,"gradientOpacity":1,"values":[0,2.2],"labelExpr":"datum.value==0?'0.00':'2.2'","labelAlign":"center","encode":{"gradient":{"update":{"opacity":{"value":1}}}}}}}},
{"data":{"name":"hR"},"transform":[{"filter":"datum.t<0"}],"mark":{"type":"rect","width":18.2,"height":3.4,"clip":true},"encoding":{"x":{"field":"t","type":"quantitative"},"y":{"field":"f","type":"quantitative"},"color":{"field":"v","type":"quantitative"}}},
{"data":{"name":"hR"},"transform":[{"filter":"datum.t>0"}],"mark":{"type":"rect","width":9.1,"height":3.4,"clip":true},"encoding":{"x":{"field":"t","type":"quantitative"},"y":{"field":"f","type":"quantitative"},"color":{"field":"v","type":"quantitative"}}},
{"data":{"name":"hR"},"transform":[{"filter":"datum.t<0"}],"mark":{"type":"rect","width":30,"height":5.5,"opacity":0.38,"clip":true},"encoding":{"x":{"field":"t","type":"quantitative"},"y":{"field":"f","type":"quantitative"},"color":{"field":"v","type":"quantitative"}}},
{"data":{"name":"hR"},"transform":[{"filter":"datum.t>0"}],"mark":{"type":"rect","width":15,"height":5.5,"opacity":0.38,"clip":true},"encoding":{"x":{"field":"t","type":"quantitative"},"y":{"field":"f","type":"quantitative"},"color":{"field":"v","type":"quantitative"}}},
{"data":{"name":"uR"},"mark":{"type":"text","align":"left","fontSize":9,"color":"#222","font":"Liberation Sans"},"encoding":{"x":{"field":"t","type":"quantitative"},"y":{"field":"f","type":"quantitative"},"text":{"field":"label"}}}]}
]}
